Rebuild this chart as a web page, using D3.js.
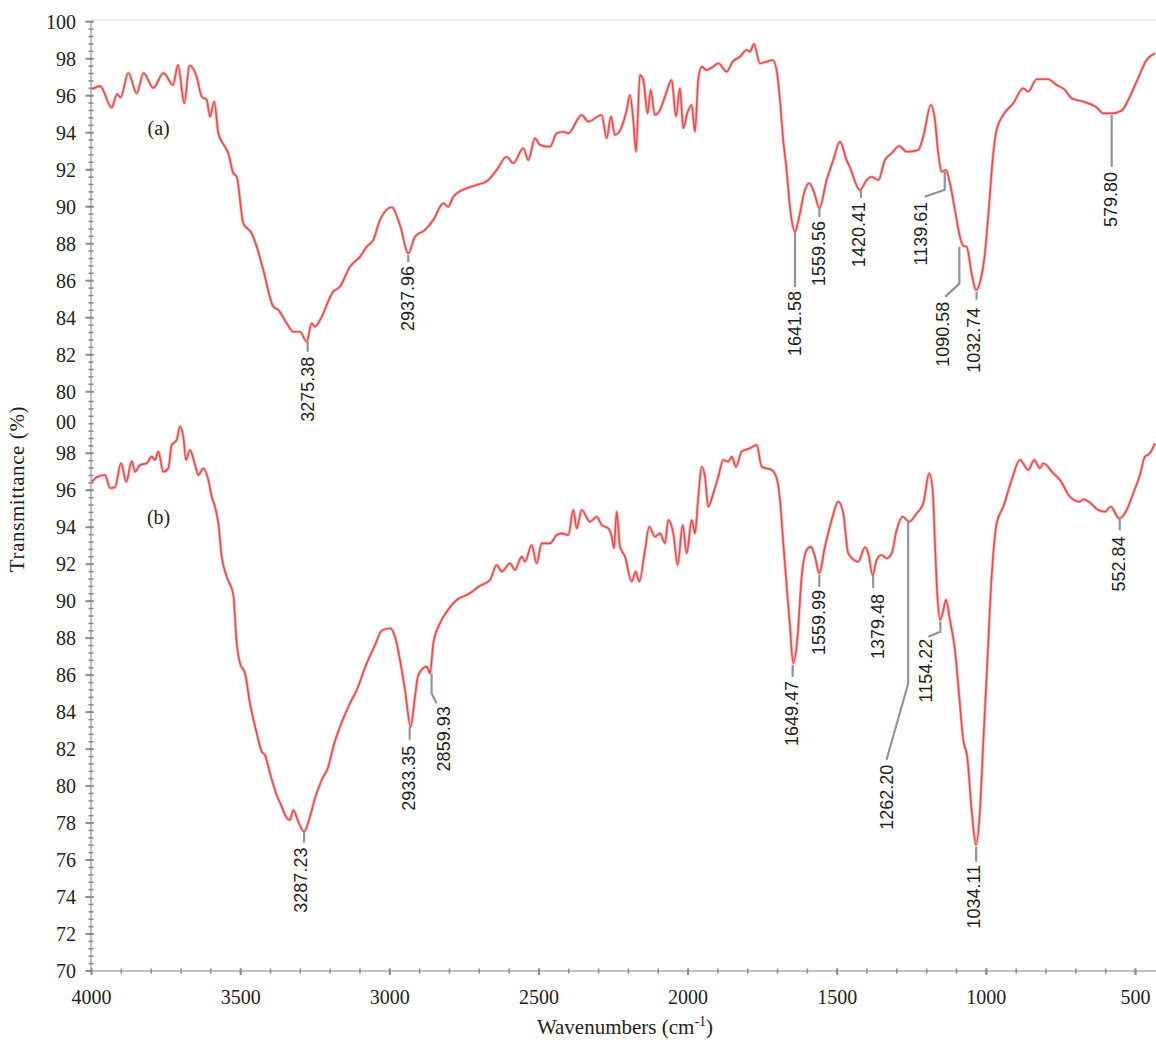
<!DOCTYPE html>
<html>
<head>
<meta charset="utf-8">
<script src="https://cdn.jsdelivr.net/npm/d3@7"></script>
<style>
  html, body { margin: 0; padding: 0; background: #fff; }
  svg { display: block; }
</style>
</head>
<body>
<svg id="chart" width="1156" height="1040"></svg>
<script>
// ---------------- DATA ----------------
// Spectrum (a): wavenumber (cm-1) and transmittance (%)
const aWave = [3998,3971.5,3932.3,3914.5,3902.8,3876.6,3848.5,3825.7,3792.8,3758.7,3726.8,3710.0,3688.9,3671.5,3647.4,3630.6,3613.8,3602.8,3588.4,3574.9,3552.5,3541.4,3524.7,3513.3,3491.2,3463.0,3446.2,3424.1,3390.6,3373.8,3345.7,3323.6,3301.1,3278.6,3261.9,3250.8,3234.0,3189.5,3167.0,3133.5,3099.9,3077.5,3055.4,3032.9,2993.7,2965.9,2938.1,2915.6,2882.1,2854.3,2820.8,2804.0,2787.2,2742.3,2708.8,2669.9,2641.7,2608.2,2586.1,2552.6,2535.8,2513.3,2496.6,2463.1,2440.6,2418.5,2401.7,2356.8,2334.7,2289.7,2273.0,2258.6,2245.2,2222.7,2205.9,2194.9,2183.8,2174.7,2161.4,2150.3,2135.6,2125.5,2111.1,2094.3,2077.5,2055.0,2040.6,2027.3,2016.2,2002.8,1988.1,1977.0,1966.0,1954.6,1937.8,1915.7,1898.9,1870.8,1850.7,1826.2,1803.7,1792.6,1779.2,1759.1,1736.7,1716.6,1703.2,1692.1,1681.1,1669.7,1658.6,1641.8,1625.0,1611.6,1593.8,1574.7,1560.3,1535.5,1513.4,1490.9,1468.5,1457.4,1423.9,1401.4,1384.7,1362.5,1340.0,1317.6,1292.1,1267.3,1228.4,1211.7,1185.9,1172.5,1161.4,1150.0,1135.6,1122.2,1105.4,1088.7,1077.6,1066.2,1049.5,1035.1,1019.3,1004.9,990.4,979.1,965.7,943.6,910.0,876.5,859.8,831.6,792.7,764.5,736.7,714.3,675.4,630.4,608.3,580.2,546.7,524.5,496.4,462.9,435.0];
const aTrans = [96.35,96.52,95.36,96.09,95.91,97.23,96.13,97.23,96.42,97.23,96.58,97.66,95.59,97.63,97.03,95.95,95.77,94.87,95.68,93.97,93.24,92.89,91.81,91.62,89.10,88.56,87.84,86.58,84.60,84.42,83.70,83.24,83.24,82.70,83.70,83.51,83.88,85.41,85.68,86.76,87.30,87.84,88.20,89.28,89.97,89.01,87.48,88.38,88.74,89.28,90.18,90.00,90.54,91.00,91.17,91.44,91.98,92.70,92.35,93.16,92.52,93.70,93.34,93.24,93.97,94.05,93.97,94.96,94.60,94.96,93.70,94.87,93.88,94.32,95.23,96.04,94.69,92.97,97.12,96.85,95.05,96.31,94.96,95.23,95.95,96.85,94.87,96.40,94.24,95.05,95.50,94.05,96.85,97.57,97.39,97.57,97.75,97.30,97.84,98.11,98.47,98.38,98.79,97.75,97.84,97.93,97.39,95.77,93.61,91.98,90.00,88.65,89.64,90.72,91.27,90.63,89.91,91.44,92.52,93.51,92.52,92.12,90.90,91.44,91.62,91.44,92.52,92.89,93.28,92.97,93.07,93.78,95.50,94.69,92.89,91.89,91.98,91.27,89.82,88.38,87.88,87.84,86.40,85.50,86.04,87.48,90.18,92.52,94.15,94.96,95.59,96.40,96.22,96.89,96.89,96.58,96.31,95.86,95.68,95.37,95.05,95.05,95.19,95.77,96.76,97.93,98.29];

// Spectrum (b)
const bWave = [3999.3,3982.6,3954.7,3938.0,3921.2,3901.1,3883.3,3865.2,3854.2,3837.4,3814.9,3798.2,3787.1,3776.1,3759.3,3742.5,3731.1,3714.4,3703.3,3692.3,3683.2,3669.8,3653.0,3642.0,3625.2,3608.5,3597.1,3586.0,3574.9,3563.5,3546.8,3524.6,3513.3,3502.2,3485.4,3468.7,3446.2,3429.4,3418.4,3401.6,3379.2,3362.4,3351.3,3334.6,3323.5,3306.8,3287.6,3267.5,3250.8,3228.3,3206.2,3189.4,3166.9,3133.4,3110.9,3077.5,3049.6,3027.2,2999.4,2982.6,2965.9,2949.1,2929.9,2915.5,2904.5,2876.3,2865.2,2854.2,2831.7,2809.3,2775.7,2731.2,2703.3,2664.1,2641.7,2624.9,2597.1,2580.3,2557.9,2546.8,2524.3,2507.6,2490.8,2463.0,2440.5,2423.7,2401.6,2384.8,2373.4,2356.7,2328.9,2306.4,2289.7,2267.5,2256.1,2248.4,2239.4,2228.3,2211.5,2189.1,2175.7,2163.6,2144.5,2130.1,2111.1,2094.3,2077.5,2066.4,2049.6,2034.9,2018.1,2004.7,1987.9,1976.8,1965.9,1954.4,1943.4,1932.3,1915.5,1898.8,1882.0,1865.2,1853.8,1839.4,1820.4,1792.5,1770.1,1753.3,1719.8,1703.0,1691.9,1680.9,1667.5,1658.4,1647.4,1634.0,1619.2,1602.4,1588.0,1574.6,1560.2,1541.1,1518.6,1496.5,1479.8,1463.0,1429.5,1407.0,1396.0,1381.2,1367.8,1351.1,1334.3,1317.5,1300.8,1280.6,1258.5,1233.7,1211.6,1191.5,1180.1,1172.4,1164.7,1155.6,1146.6,1135.5,1122.1,1105.4,1091.0,1077.6,1064.2,1049.4,1034.9,1021.5,1010.5,999.1,982.3,965.5,943.4,915.3,887.4,859.6,839.5,820.4,809.3,775.8,753.3,719.8,686.3,675.3,652.8,625.0,602.5,583.4,554.6,529.8,507.6,485.2,468.4,451.7,434.9];
const bTrans = [96.46,96.70,96.83,96.12,96.18,97.46,96.46,97.58,97.00,97.37,97.46,97.82,97.64,98.09,97.00,97.19,98.45,98.72,99.44,98.90,97.64,98.18,97.37,96.83,97.19,96.56,95.65,95.11,94.21,92.41,91.33,90.34,87.72,86.64,86.10,84.48,82.86,81.86,81.68,80.69,79.52,78.89,78.44,78.17,78.71,78.08,77.54,78.35,79.34,80.33,81.05,82.13,83.21,84.48,85.20,86.64,87.63,88.41,88.54,88.08,86.82,85.20,83.21,84.84,86.01,86.46,86.10,87.72,88.81,89.43,90.07,90.43,90.78,91.15,91.96,91.60,92.05,91.69,92.41,92.14,93.04,92.05,93.13,93.13,93.58,93.67,93.58,94.93,93.94,94.93,94.30,94.57,94.12,93.94,93.49,92.86,94.84,92.95,92.41,91.06,91.60,91.06,92.77,94.03,93.49,93.67,93.13,94.39,93.67,91.96,94.12,92.59,94.39,93.67,95.65,97.27,96.73,95.11,95.84,96.73,97.64,97.54,97.82,97.27,98.09,98.27,98.45,97.27,97.10,96.65,95.47,93.13,90.43,88.62,86.64,87.90,91.33,92.77,92.95,92.41,91.51,92.95,94.39,95.38,94.75,92.59,92.14,92.92,92.59,91.42,92.23,92.50,92.32,92.59,93.85,94.57,94.30,94.75,95.30,96.92,96.01,93.13,90.43,88.98,89.35,90.07,88.98,87.36,84.84,82.49,81.59,78.71,76.82,78.71,82.32,85.92,91.33,94.21,95.11,96.56,97.64,97.10,97.64,97.19,97.46,96.92,96.56,95.65,95.38,95.51,95.33,94.93,94.84,95.11,94.48,94.93,95.84,96.83,97.82,98.00,98.54];

// Peak annotations: label (cm-1) and transmittance where the leader starts
const peaksA = [
  {label: "3275.38", wn: 3275.38, t: 82.70},
  {label: "2937.96", wn: 2937.96, t: 87.39},
  {label: "1641.58", wn: 1641.58, t: 88.63},
  {label: "1559.56", wn: 1559.56, t: 89.93},
  {label: "1420.41", wn: 1420.41, t: 90.90},
  {label: "1139.61", wn: 1139.61, t: 91.89},
  {label: "1090.58", wn: 1090.58, t: 87.84},
  {label: "1032.74", wn: 1032.74, t: 85.41},
  {label: "579.80",  wn: 579.80,  t: 94.96}
];
const peaksB = [
  {label: "3287.23", wn: 3287.23, t: 77.54},
  {label: "2933.35", wn: 2933.35, t: 83.21},
  {label: "2859.93", wn: 2859.93, t: 86.10},
  {label: "1649.47", wn: 1649.47, t: 86.55},
  {label: "1559.99", wn: 1559.99, t: 91.42},
  {label: "1379.48", wn: 1379.48, t: 91.42},
  {label: "1262.20", wn: 1262.20, t: 94.30},
  {label: "1154.22", wn: 1154.22, t: 88.89},
  {label: "1034.11", wn: 1034.11, t: 76.72},
  {label: "552.84",  wn: 552.84,  t: 94.48}
];

const xTicks = [4000, 3500, 3000, 2500, 2000, 1500, 1000, 500];
const yTicksTop = [100, 98, 96, 94, 92, 90, 88, 86, 84, 82, 80];
const yTicksBot = [98, 96, 94, 92, 90, 88, 86, 84, 82, 80, 78, 76, 74, 72, 70];

// ---------------- LAYOUT (pixels / styles) ----------------
// leader: vertical length v, then diagonal (dx, dy); text: offset from leader end (tx, gap)
const leaderLayout = {
  "3275.38": {v: 10, dx: 0, dy: 0, tx: 0, gap: 5},
  "2937.96": {v: 7, dx: 0, dy: 0, tx: 0, gap: 4},
  "1641.58": {v: 55, dx: 0, dy: 0, tx: 0, gap: 4},
  "1559.56": {v: 9, dx: 0, dy: 0, tx: 0, gap: 4},
  "1420.41": {v: 8, dx: 0, dy: 0, tx: -2, gap: 4},
  "1139.61": {v: 18, dx: -20, dy: 7, tx: -4, gap: 5},
  "1090.58": {v: 37, dx: -14, dy: 13, tx: -2, gap: 5},
  "1032.74": {v: 8, dx: 0, dy: 0, tx: -3, gap: 8},
  "579.80":  {v: 52, dx: 0, dy: 0, tx: -1, gap: 5},
  "3287.23": {v: 11, dx: 0, dy: 0, tx: -3, gap: 5},
  "2933.35": {v: 13, dx: 0, dy: 0, tx: -1, gap: 6},
  "2859.93": {v: 20, dx: 5, dy: 10, tx: 7, gap: 3},
  "1649.47": {v: 12, dx: 0, dy: 0, tx: -1, gap: 4},
  "1559.99": {v: 12, dx: 0, dy: 0, tx: 0, gap: 3},
  "1379.48": {v: 13, dx: 0, dy: 0, tx: 5, gap: 6},
  "1262.20": {v: 162, dx: -21.6, dy: 76, tx: 0, gap: 5},
  "1154.22": {v: 10, dx: -12, dy: 5, tx: -2, gap: 2},
  "1034.11": {v: 15, dx: 0, dy: 0, tx: -2, gap: 3},
  "552.84":  {v: 12, dx: 0, dy: 0, tx: -1, gap: 6}
};

const svg = d3.select("#chart");
const W = 1156;

const x = d3.scaleLinear().domain([4000, 500]).range([91.5, 1135.5]);
const yTop = d3.scaleLinear().domain([80, 100]).range([391.7, 21.7]);
const yBot = d3.scaleLinear().domain([70, 100]).range([971, 416.3]);
const axisX = 91;
const axisY = 971;

const axisColor = "#8c8c8c";
const lineColor = "#f04848";
const leaderColor = "#8f959c";

// faint top frame line
svg.append("line")
  .attr("x1", axisX).attr("x2", W).attr("y1", 20).attr("y2", 20)
  .attr("stroke", "#e6e6e6").attr("stroke-width", 1.5);

// ---- Y axis ----
svg.append("line")
  .attr("x1", axisX).attr("x2", axisX).attr("y1", yTop(100)).attr("y2", axisY)
  .attr("stroke", "#b0b0b0").attr("stroke-width", 1.6);

// minor ticks
const minorTop = d3.range(80, 100.01, 0.4);
const minorBot = d3.range(70, 100.9, 0.4);
svg.append("g").selectAll("line").data(minorTop).join("line")
  .attr("x1", axisX - 2.5).attr("x2", axisX + 2.5)
  .attr("y1", d => yTop(d)).attr("y2", d => yTop(d))
  .attr("stroke", axisColor).attr("stroke-width", 1.6);
svg.append("g").selectAll("line").data(minorBot).join("line")
  .attr("x1", axisX - 2.5).attr("x2", axisX + 2.5)
  .attr("y1", d => yBot(d)).attr("y2", d => yBot(d))
  .attr("stroke", axisColor).attr("stroke-width", 1.6);

// major ticks + labels
const tickFont = "'Liberation Serif', 'Times New Roman', serif";
function yMajor(scale, vals) {
  const g = svg.append("g");
  g.selectAll("line").data(vals).join("line")
    .attr("x1", axisX - 5.5).attr("x2", axisX + 2.5)
    .attr("y1", d => scale(d)).attr("y2", d => scale(d))
    .attr("stroke", axisColor).attr("stroke-width", 2);
  g.selectAll("text").data(vals).join("text")
    .attr("x", 76).attr("y", d => scale(d))
    .attr("dy", "0.34em")
    .attr("text-anchor", "end")
    .attr("font-family", tickFont).attr("font-size", 20).attr("fill", "#222")
    .text(d => d3.format("d")(d));
}
yMajor(yTop, yTicksTop);
yMajor(yBot, yTicksBot);
// the clipped "00" label of panel (b)
svg.append("text")
  .attr("x", 76).attr("y", (yTop(80) + yBot(98)) / 2).attr("dy", "0.34em")
  .attr("text-anchor", "end")
  .attr("font-family", tickFont).attr("font-size", 20).attr("fill", "#222")
  .text("00");

// ---- X axis ----
svg.append("line")
  .attr("x1", axisX).attr("x2", W).attr("y1", axisY).attr("y2", axisY)
  .attr("stroke", "#b0b0b0").attr("stroke-width", 1.6);
const xMinor = d3.range(4000, 420, -100);
svg.append("g").selectAll("line").data(xMinor).join("line")
  .attr("x1", d => x(d)).attr("x2", d => x(d))
  .attr("y1", axisY - 2.5).attr("y2", axisY + 2.5)
  .attr("stroke", axisColor).attr("stroke-width", 1.6);
svg.append("g").selectAll("line").data(xTicks).join("line")
  .attr("x1", d => x(d)).attr("x2", d => x(d))
  .attr("y1", axisY - 2.5).attr("y2", axisY + 4)
  .attr("stroke", axisColor).attr("stroke-width", 2);
svg.append("g").selectAll("text").data(xTicks).join("text")
  .attr("x", d => x(d)).attr("y", 1004)
  .attr("text-anchor", "middle")
  .attr("font-family", tickFont).attr("font-size", 20).attr("fill", "#222")
  .text(d => d);

// axis titles
svg.append("text")
  .attr("transform", "translate(24,489) rotate(-90)")
  .attr("text-anchor", "middle")
  .attr("font-family", tickFont).attr("font-size", 21).attr("fill", "#222")
  .attr("letter-spacing", 0.6)
  .text("Transmittance (%)");

const xt = svg.append("text")
  .attr("x", 625).attr("y", 1034)
  .attr("text-anchor", "middle")
  .attr("font-family", tickFont).attr("font-size", 21).attr("fill", "#222");
xt.append("tspan").text("Wavenumbers (cm");
xt.append("tspan").attr("font-size", 14).attr("dy", -8).text("-1");
xt.append("tspan").attr("dy", 8).text(")");

// ---- Spectra ----
const clip = svg.append("clipPath").attr("id", "plotclip")
  .append("rect").attr("x", axisX).attr("y", 0).attr("width", W - axisX).attr("height", axisY);

function drawSpectrum(waves, trans, yScale) {
  const data = waves.map((w, i) => [w, trans[i]]);
  const line = d3.line().x(d => x(d[0])).y(d => yScale(d[1])).curve(d3.curveMonotoneX);
  svg.append("path").datum(data)
    .attr("clip-path", "url(#plotclip)")
    .attr("fill", "none").attr("stroke", lineColor)
    .attr("stroke-opacity", 0.35).attr("stroke-width", 3.2)
    .attr("stroke-linejoin", "round").attr("d", line);
  svg.append("path").datum(data)
    .attr("clip-path", "url(#plotclip)")
    .attr("fill", "none").attr("stroke", lineColor)
    .attr("stroke-width", 1.6)
    .attr("stroke-linejoin", "round").attr("d", line);
}
drawSpectrum(aWave, aTrans, yTop);
drawSpectrum(bWave, bTrans, yBot);

// panel labels
svg.append("text").attr("x", x(3775)).attr("y", yTop(93.9))
  .attr("text-anchor", "middle").attr("font-family", tickFont)
  .attr("font-size", 20).attr("fill", "#222").text("(a)");
svg.append("text").attr("x", x(3775)).attr("y", yBot(94.2))
  .attr("text-anchor", "middle").attr("font-family", tickFont)
  .attr("font-size", 20).attr("fill", "#222").text("(b)");

// ---- Peak annotations ----
const peakFont = "'Liberation Sans', Arial, sans-serif";
function drawPeaks(peaks, yScale) {
  const g = svg.append("g");
  peaks.forEach(p => {
    const L = leaderLayout[p.label];
    const x0 = x(p.wn), y0 = yScale(p.t);
    const x1 = x0, y1 = y0 + L.v;
    const x2 = x1 + L.dx, y2 = y1 + L.dy;
    const pts = L.dx || L.dy ? [[x0, y0], [x1, y1], [x2, y2]] : [[x0, y0], [x1, y1]];
    g.append("path")
      .attr("d", d3.line()(pts))
      .attr("fill", "none").attr("stroke", leaderColor).attr("stroke-width", 2.2);
    g.append("text")
      .attr("transform", `translate(${x2 + L.tx},${y2 + L.gap}) rotate(-90)`)
      .attr("text-anchor", "end").attr("dominant-baseline", "central")
      .attr("font-family", peakFont).attr("font-size", 18).attr("fill", "#1e1e1e")
      .text(p.label);
  });
}
drawPeaks(peaksA, yTop);
drawPeaks(peaksB, yBot);
</script>
</body>
</html>
